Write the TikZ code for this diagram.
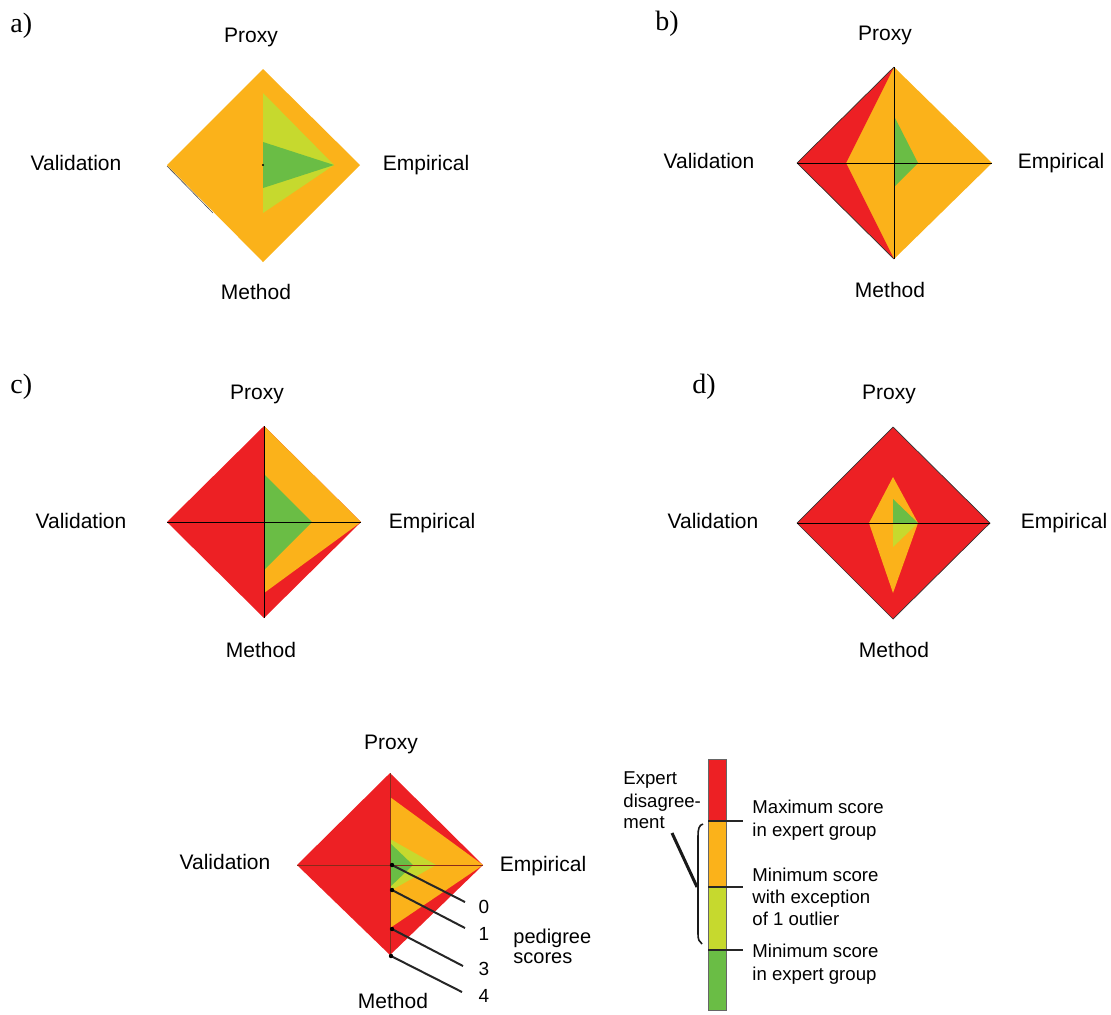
\documentclass[tikz,border=0pt]{standalone}
\usepackage{fontspec}
\setmainfont{Liberation Serif}
\setsansfont{Liberation Sans}
\definecolor{pOrange}{HTML}{FBB21A}
\definecolor{pRed}{HTML}{ED2024}
\definecolor{pGreen}{HTML}{6ABD45}
\definecolor{pLime}{HTML}{C6D92E}
\definecolor{pAxisDark}{HTML}{8A2A1A}
\begin{document}
\begin{tikzpicture}[x=0.5pt,y=-0.5pt,
  axisline/.style={black, line width=0.45pt},
  rim/.style={black!80, line width=0.35pt},
  lbl/.style={font=\fontsize{10.5}{12}\sffamily, anchor=base, inner sep=0pt},
  panellbl/.style={font=\fontsize{14}{16}\selectfont, anchor=base west, inner sep=0pt},
  keytext/.style={font=\fontsize{9.3}{11}\sffamily, anchor=base west, inner sep=0pt},
  scoretext/.style={font=\fontsize{9.5}{11}\sffamily, anchor=base, inner sep=0pt},
  pedtext/.style={font=\fontsize{10}{12}\sffamily, anchor=base west, inner sep=0pt},
  pointer/.style={black!85, line width=1pt},
  tick/.style={black!85, line width=1.2pt}]
\useasboundingbox (0,0) rectangle (1111,1014);

% ---------- panel a ----------
\fill[pOrange] (263,69) -- (360,165) -- (263,262) -- (167,165) -- cycle;
\fill[pLime] (263,93) -- (334,165) -- (263,213) -- cycle;
\fill[pGreen] (263,142) -- (334,165) -- (263,188) -- cycle;
\fill[black] (263,165) circle (1.2);
\draw[black!70, line width=0.3pt] (167,166) -- (213,213);
\node[panellbl] (la) at (10,32) {a)};
\node[lbl] (aP) at (251,42) {Proxy};
\node[lbl] (aV) at (76,170) {Validation};
\node[lbl] (aE) at (426,170) {Empirical};
\node[lbl] (aM) at (256,299) {Method};

% ---------- panel b ----------
\fill[pOrange] (894,67) -- (992,163) -- (894,259) -- (797,163) -- cycle;
\fill[pRed] (894,67) -- (797,163) -- (894,259) -- (846,163) -- cycle;
\fill[pGreen] (894,116) -- (918,163) -- (894,187) -- cycle;
\draw[rim] (894,67) -- (797,163) -- (894,259);
\draw[axisline] (894,67) -- (894,259);
\draw[axisline] (797,163) -- (992,163);
\node[panellbl] (lb) at (655,30) {b)};
\node[lbl] (bP) at (885,40) {Proxy};
\node[lbl] (bV) at (709,168) {Validation};
\node[lbl] (bE) at (1061,168) {Empirical};
\node[lbl] (bM) at (890,297) {Method};

% ---------- panel c ----------
\fill[pRed] (264,426) -- (361,522) -- (264,618) -- (167,522) -- cycle;
\fill[pOrange] (264,426) -- (361,522) -- (264,593) -- cycle;
\fill[pGreen] (264,474) -- (312,522) -- (264,570) -- cycle;
\draw[axisline] (264,426) -- (264,618);
\draw[axisline] (167,522) -- (361,522);
\node[panellbl] (lc) at (10,393) {c)};
\node[lbl] (cP) at (257,399) {Proxy};
\node[lbl] (cV) at (81,528) {Validation};
\node[lbl] (cE) at (432,528) {Empirical};
\node[lbl] (cM) at (261,657) {Method};

% ---------- panel d ----------
\fill[pRed] (893,427) -- (990,523) -- (893,619) -- (797,523) -- cycle;
\draw[rim] (893,427) -- (990,523) -- (893,619) -- (797,523) -- cycle;
\fill[pOrange] (893,477) -- (918,523) -- (893,593) -- (869,523) -- cycle;
\fill[pGreen] (893,499) -- (918,523) -- (893,523) -- cycle;
\fill[pLime] (893,523) -- (918,523) -- (893,547) -- cycle;
\draw[axisline] (797,523) -- (990,523);
\node[panellbl] (ld) at (692,393) {d)};
\node[lbl] (dP) at (889,399) {Proxy};
\node[lbl] (dV) at (713,528) {Validation};
\node[lbl] (dE) at (1064,528) {Empirical};
\node[lbl] (dM) at (894,657) {Method};

% ---------- key: pedigree diamond ----------
\fill[pRed] (390,773) -- (483,865) -- (390,955) -- (297,865) -- cycle;
\fill[pOrange] (390,797) -- (483,865) -- (390,928) -- cycle;
\fill[pLime] (390,839) -- (436,865) -- (390,891) -- cycle;
\fill[pGreen] (390,843) -- (413,865) -- (390,887) -- cycle;
\draw[pAxisDark, line width=0.5pt] (390,773) -- (390,955);
\draw[pAxisDark, line width=0.5pt] (297,865) -- (483,865);
\node[lbl] (kP) at (391,749) {Proxy};
\node[lbl] (kV) at (225,869) {Validation};
\node[lbl] (kE) at (543,871) {Empirical};
\node[lbl] (kM) at (393,1008) {Method};

% score pointers
\coordinate (s0) at (392,865);
\coordinate (s1) at (392,890);
\coordinate (s3) at (392,929);
\coordinate (s4) at (391,956);
\coordinate (t0) at (465,902);
\coordinate (t1) at (465,928);
\coordinate (t3) at (463,966);
\coordinate (t4) at (462,992);
\foreach \p/\q in {s0/t0,s1/t1,s3/t3,s4/t4}{
  \draw[pointer] (\p) -- (\q);
  \fill[black] (\p) circle (2.2);
}
\node[scoretext] (n0) at (484,913) {0};
\node[scoretext] (n1) at (484,940) {1};
\node[scoretext] (n3) at (484,975) {3};
\node[scoretext] (n4) at (484,1002) {4};
\node[pedtext] (ped1) at (513,943) {pedigree};
\node[pedtext] (ped2) at (513,963) {scores};

% ---------- key: colour bar ----------
\fill[pRed] (708,759) rectangle (726,821);
\fill[pOrange] (708,821) rectangle (726,887);
\fill[pLime] (708,887) rectangle (726,950);
\fill[pGreen] (708,950) rectangle (726,1010);
\draw[black!60, line width=0.35pt] (708,759) rectangle (726,1010);
\draw[tick] (708,821) -- (743,821);
\draw[tick] (708,887) -- (743,887);
\draw[tick] (708,950) -- (743,950);

\node[keytext] (k1a) at (752,813) {Maximum score};
\node[keytext] (k1b) at (752,836) {in expert group};
\node[keytext] (k2a) at (752,881) {Minimum score};
\node[keytext] (k2b) at (752,903) {with exception};
\node[keytext] (k2c) at (752,925) {of 1 outlier};
\node[keytext] (k3a) at (752,957) {Minimum score};
\node[keytext] (k3b) at (752,980) {in expert group};

\node[keytext] (x1) at (623,784) {Expert};
\node[keytext] (x2) at (623,807) {disagree-};
\node[keytext] (x3) at (623,828) {ment};

% disagreement bracket and its pointer
\coordinate (bt) at (703,824);
\coordinate (bm) at (697,887);
\coordinate (bb) at (702,944);
\coordinate (xp) at (672,833);
\draw[black!90, line width=0.8pt] (bt) .. controls (699,825) and (698,829) .. (698,836)
  -- (698,934) .. controls (698,939) and (699,942) .. (bb);
\draw[black!90, line width=1.5pt] (xp) -- (bm);
\end{tikzpicture}
\end{document}
